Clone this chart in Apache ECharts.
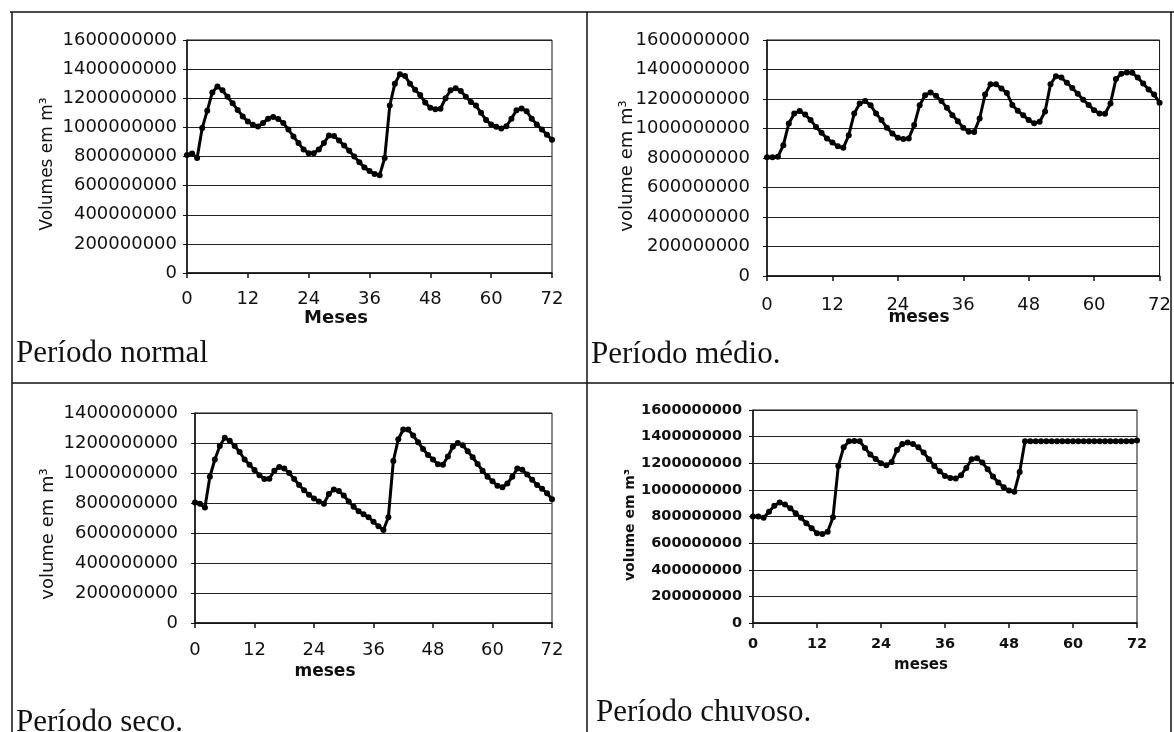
<!DOCTYPE html>
<html>
<head>
<meta charset="utf-8">
<script src="https://cdn.jsdelivr.net/npm/echarts@6/dist/echarts.min.js"></script>
<style>
html,body{margin:0;padding:0;background:#fff;}
#c{width:1174px;height:732px;}
</style>
</head>
<body>
<div id="c"></div>
<script>
// Months 0..72
const MONTHS = [0,1,2,3,4,5,6,7,8,9,10,11,12,13,14,15,16,17,18,19,20,21,22,23,24,25,26,27,28,29,30,31,32,33,34,35,36,
  37,38,39,40,41,42,43,44,45,46,47,48,49,50,51,52,53,54,55,56,57,58,59,60,61,62,63,64,65,66,67,68,69,70,71,72];

// Volumes (m³)
const NORMAL = [810e6,820e6,790e6,995e6,1115e6,1240e6,1280e6,1255e6,1210e6,1165e6,1120e6,1075e6,1040e6,1018e6,1006e6,1030e6,1060e6,1072e6,1058e6,
  1030e6,985e6,938e6,892e6,848e6,823e6,823e6,848e6,892e6,945e6,940e6,910e6,875e6,840e6,800e6,760e6,725e6,700e6,680e6,672e6,790e6,1150e6,1300e6,
  1365e6,1352e6,1300e6,1258e6,1222e6,1170e6,1135e6,1125e6,1128e6,1200e6,1255e6,1268e6,1250e6,1210e6,1175e6,1150e6,1100e6,1050e6,1020e6,1005e6,
  992e6,1008e6,1060e6,1118e6,1130e6,1110e6,1060e6,1020e6,985e6,950e6,915e6];

const MEDIO = [805e6,805e6,808e6,887e6,1034e6,1102e6,1118e6,1095e6,1057e6,1011e6,971e6,932e6,905e6,880e6,869e6,955e6,1102e6,1170e6,1186e6,
  1158e6,1102e6,1057e6,1005e6,966e6,937e6,928e6,932e6,1023e6,1158e6,1226e6,1244e6,1222e6,1186e6,1140e6,1090e6,1050e6,1005e6,978e6,977e6,1068e6,
  1230e6,1300e6,1300e6,1272e6,1240e6,1160e6,1120e6,1090e6,1057e6,1035e6,1045e6,1115e6,1300e6,1355e6,1345e6,1310e6,1275e6,1235e6,1195e6,1160e6,
  1124e6,1102e6,1100e6,1170e6,1335e6,1372e6,1380e6,1378e6,1345e6,1305e6,1265e6,1230e6,1175e6];

const SECO = [803e6,795e6,770e6,975e6,1090e6,1180e6,1235e6,1215e6,1180e6,1140e6,1090e6,1055e6,1020e6,985e6,960e6,962e6,1015e6,1040e6,1030e6,
  1000e6,960e6,920e6,885e6,855e6,830e6,810e6,795e6,860e6,890e6,880e6,850e6,810e6,775e6,745e6,725e6,705e6,675e6,645e6,620e6,705e6,1080e6,1225e6,
  1290e6,1290e6,1250e6,1205e6,1160e6,1120e6,1090e6,1058e6,1055e6,1110e6,1175e6,1200e6,1185e6,1145e6,1105e6,1060e6,1015e6,975e6,945e6,915e6,
  905e6,930e6,975e6,1030e6,1022e6,990e6,955e6,920e6,895e6,865e6,825e6];

const CHUVOSO = [800e6,800e6,790e6,835e6,880e6,905e6,890e6,862e6,825e6,790e6,750e6,712e6,675e6,668e6,685e6,795e6,1180e6,1320e6,1365e6,
  1368e6,1365e6,1315e6,1265e6,1232e6,1200e6,1185e6,1210e6,1300e6,1345e6,1355e6,1345e6,1320e6,1280e6,1230e6,1180e6,1140e6,1105e6,1090e6,1085e6,
  1110e6,1165e6,1230e6,1238e6,1205e6,1155e6,1100e6,1055e6,1020e6,995e6,985e6,1135e6,1365e6,1365e6,1365e6,1365e6,1365e6,1365e6,1365e6,1365e6,
  1365e6,1365e6,1365e6,1365e6,1365e6,1365e6,1365e6,1365e6,1365e6,1365e6,1365e6,1365e6,1366e6,1370e6];

const CAPTIONS = ['Período normal', 'Período médio.', 'Período seco.', 'Período chuvoso.'];
const Y_NAMES = ['Volumes em m³', 'volume em m³', 'volume em m³', 'volume em m³'];
const X_NAMES = ['Meses', 'meses', 'meses', 'meses'];
const Y_MAX = [1600000000, 1600000000, 1400000000, 1600000000];
const Y_STEP = 200000000;

const chart = echarts.init(document.getElementById('c'), null, {renderer: 'canvas'});

const grids = [
  {left: 187, top: 40, width: 365, height: 233},
  {left: 767, top: 40, width: 395, height: 236},
  {left: 195, top: 413, width: 357, height: 210},
  {left: 753, top: 410, width: 384, height: 213}
];
const SERIES = [NORMAL, MEDIO, SECO, CHUVOSO];
const lblFont = [
  {fontFamily: 'DejaVu Sans', fontSize: 18, color: '#111'},
  {fontFamily: 'DejaVu Sans', fontSize: 18, color: '#111'},
  {fontFamily: 'DejaVu Sans', fontSize: 18, color: '#111'},
  {fontFamily: 'DejaVu Sans', fontSize: 14.5, fontWeight: 'bold', color: '#111'}
];
const yLabelMargin = [10, 17, 17, 11];
const xLabelMargin = [17, 20, 18, 14];
const yNamePos = [[48, 164, 17, 'normal'], [627, 166, 18, 'normal'], [48, 534, 18, 'normal'], [630, 525, 14, 'bold']];
const xNamePos = [[336, 318, 18], [919, 318, 17], [325, 672, 17], [921, 665, 15]];
const captionPos = [[16, 354], [591, 355], [16, 723], [596, 713]];

const option = {
  backgroundColor: '#fff',
  animation: false,
  grid: grids.map(g => Object.assign({show: true, borderColor: '#111', borderWidth: 1, backgroundColor: 'transparent', containLabel: false}, g)),
  xAxis: grids.map((g, i) => ({
    type: 'category', gridIndex: i, data: MONTHS, boundaryGap: false,
    axisLine: {show: true, lineStyle: {color: '#111', width: 1.5}},
    axisTick: {show: true, interval: 11, length: 5, lineStyle: {color: '#111', width: 1.5}},
    axisLabel: Object.assign({interval: 11, margin: xLabelMargin[i]}, lblFont[i]),
    splitLine: {show: false}
  })),
  yAxis: grids.map((g, i) => ({
    type: 'value', gridIndex: i, min: 0, max: Y_MAX[i], interval: Y_STEP,
    axisLine: {show: true, lineStyle: {color: '#111', width: 1.5}},
    axisTick: {show: true, length: 4, lineStyle: {color: '#111'}},
    axisLabel: Object.assign({margin: yLabelMargin[i], formatter: v => String(v)}, lblFont[i]),
    splitLine: {show: true, lineStyle: {color: '#222', width: 1}}
  })),
  series: SERIES.map((d, i) => ({
    type: 'line', xAxisIndex: i, yAxisIndex: i, data: d,
    symbol: 'circle', symbolSize: 6, showAllSymbol: true,
    lineStyle: {color: '#000', width: 3},
    itemStyle: {color: '#000'}
  })),
  graphic: [
    // table rules
    {type: 'line', shape: {x1: 10, y1: 12, x2: 1174, y2: 12}, style: {stroke: '#111', lineWidth: 1.5}},
    {type: 'line', shape: {x1: 12, y1: 12, x2: 12, y2: 732}, style: {stroke: '#111', lineWidth: 1.5}},
    {type: 'line', shape: {x1: 587, y1: 12, x2: 587, y2: 732}, style: {stroke: '#111', lineWidth: 1.5}},
    {type: 'line', shape: {x1: 1171, y1: 12, x2: 1171, y2: 732}, style: {stroke: '#111', lineWidth: 1.5}},
    {type: 'line', shape: {x1: 12, y1: 383, x2: 1174, y2: 383}, style: {stroke: '#111', lineWidth: 1.5}}
  ].concat(CAPTIONS.map((t, i) => ({
    type: 'text', x: captionPos[i][0], y: captionPos[i][1],
    style: {text: t, fontFamily: 'Liberation Serif', fontSize: 31, fill: '#111', align: 'left', verticalAlign: 'middle'}
  }))).concat(X_NAMES.map((t, i) => ({
    type: 'text', x: xNamePos[i][0], y: xNamePos[i][1],
    style: {text: t, fontFamily: 'DejaVu Sans', fontSize: xNamePos[i][2], fontWeight: 'bold', fill: '#111', align: 'center', verticalAlign: 'middle'}
  }))).concat(Y_NAMES.map((t, i) => ({
    type: 'text', x: yNamePos[i][0], y: yNamePos[i][1], rotation: Math.PI / 2,
    style: {text: t, fontFamily: 'DejaVu Sans', fontSize: yNamePos[i][2], fontWeight: yNamePos[i][3], fill: '#111', align: 'center', verticalAlign: 'middle'}
  })))
};
chart.setOption(option);
</script>
</body>
</html>
